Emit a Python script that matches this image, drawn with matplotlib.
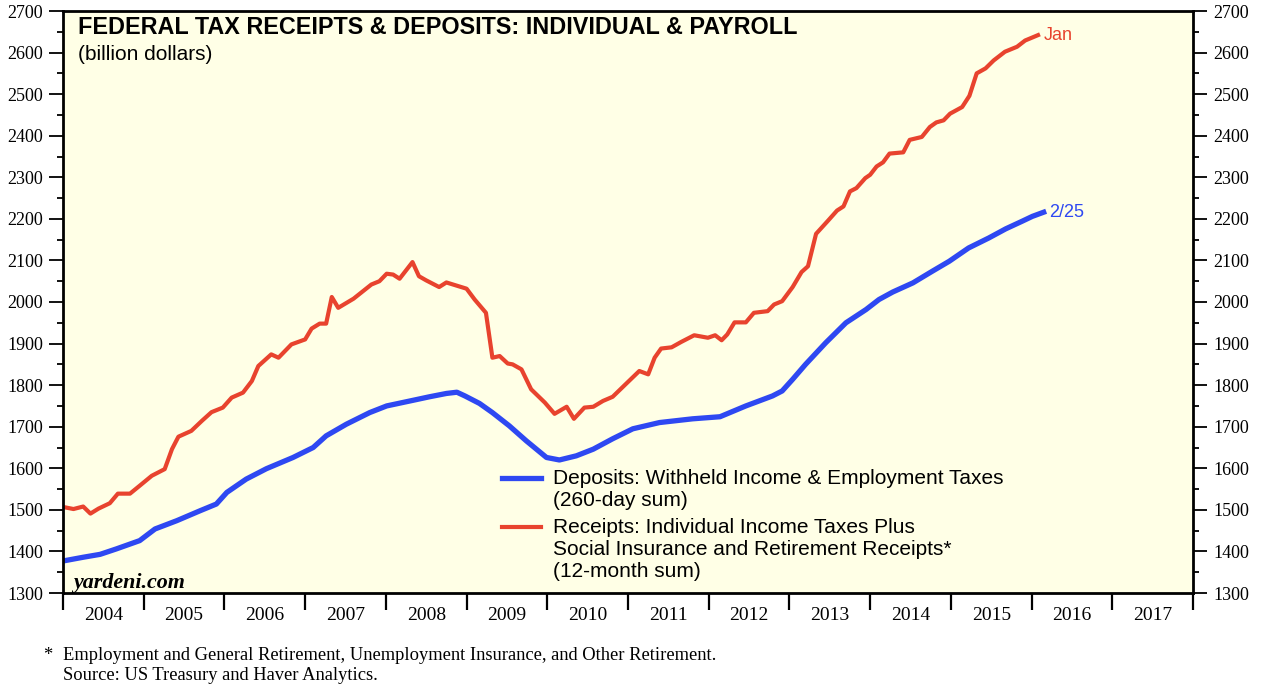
import matplotlib.pyplot as plt
from matplotlib.ticker import MultipleLocator, FixedLocator, NullFormatter
from matplotlib.legend_handler import HandlerLine2D

# Data (x = decimal year)
receipts_t = [2004.00, 2004.13, 2004.25, 2004.34, 2004.44, 2004.58, 2004.68, 2004.83, 2004.95,
              2005.10, 2005.26, 2005.35, 2005.43, 2005.59, 2005.72, 2005.84, 2005.98,
              2006.09, 2006.23, 2006.34, 2006.42, 2006.58, 2006.67, 2006.83, 2007.00,
              2007.08, 2007.18, 2007.26, 2007.33, 2007.41, 2007.60, 2007.82, 2007.92,
              2008.01, 2008.09, 2008.17, 2008.33, 2008.41, 2008.50, 2008.66, 2008.75,
              2009.00, 2009.10, 2009.24, 2009.32, 2009.41, 2009.51, 2009.57, 2009.68,
              2009.80, 2009.97, 2010.09, 2010.24, 2010.33, 2010.46, 2010.57, 2010.69,
              2010.81, 2010.98, 2011.14, 2011.25, 2011.33, 2011.41, 2011.54, 2011.66,
              2011.82, 2011.99, 2012.08, 2012.16, 2012.23, 2012.32, 2012.46, 2012.56,
              2012.73, 2012.81, 2012.91, 2013.04, 2013.15, 2013.23, 2013.33, 2013.48,
              2013.59, 2013.67, 2013.75, 2013.83, 2013.94, 2014.00, 2014.08, 2014.16,
              2014.24, 2014.41, 2014.49, 2014.64, 2014.74, 2014.82, 2014.91, 2014.99,
              2015.14, 2015.23, 2015.32, 2015.43, 2015.53, 2015.67, 2015.82, 2015.92,
              2016.08]
receipts_v = [1507, 1502, 1508, 1491, 1503, 1516, 1539, 1539, 1558,
              1582, 1598, 1646, 1676, 1690, 1714, 1735, 1746,
              1770, 1782, 1810, 1846, 1874, 1866, 1898, 1910,
              1936, 1948, 1948, 2012, 1986, 2008, 2042, 2050,
              2068, 2066, 2056, 2096, 2062, 2052, 2036, 2047,
              2032, 2006, 1974, 1866, 1870, 1852, 1850, 1838,
              1790, 1758, 1731, 1748, 1719, 1746, 1748, 1762,
              1772, 1804, 1834, 1826, 1866, 1888, 1891, 1904,
              1920, 1914, 1920, 1908, 1922, 1951, 1951, 1974,
              1978, 1994, 2002, 2036, 2072, 2086, 2164, 2196,
              2220, 2230, 2266, 2274, 2298, 2306, 2326, 2336,
              2357, 2360, 2390, 2397, 2421, 2432, 2437, 2453,
              2469, 2496, 2550, 2562, 2581, 2602, 2614, 2629,
              2642]

deposits_t = [2004.00, 2004.25, 2004.46, 2004.66, 2004.95, 2005.14, 2005.41, 2005.70, 2005.90,
              2006.03, 2006.27, 2006.52, 2006.85, 2007.10, 2007.26, 2007.51, 2007.80,
              2008.01, 2008.30, 2008.54, 2008.75, 2008.88, 2008.98, 2009.16, 2009.32,
              2009.53, 2009.74, 2009.99, 2010.15, 2010.36, 2010.57, 2010.81, 2011.06,
              2011.39, 2011.80, 2012.14, 2012.46, 2012.79, 2012.91, 2013.04, 2013.20,
              2013.45, 2013.70, 2013.95, 2014.11, 2014.28, 2014.53, 2014.77, 2014.98,
              2015.22, 2015.47, 2015.68, 2015.88, 2016.01, 2016.15]
deposits_v = [1377, 1386, 1393, 1406, 1426, 1454, 1474, 1498, 1514,
              1542, 1574, 1599, 1626, 1650, 1678, 1706, 1734,
              1750, 1762, 1772, 1780, 1783, 1774, 1756, 1734,
              1702, 1666, 1626, 1620, 1630, 1646, 1671, 1695,
              1710, 1719, 1724, 1750, 1774, 1786, 1814, 1850,
              1902, 1950, 1982, 2006, 2024, 2046, 2074, 2098,
              2130, 2154, 2176, 2194, 2206, 2216]

years = list(range(2004, 2018))

red = '#E8432E'
blue = '#2E48F2'
serif = 'Liberation Serif'
sans = 'Liberation Sans'
LEG_SIZE = 15


class TopLineHandler(HandlerLine2D):
    # put the legend sample next to the first line of a multi-line label
    def __init__(self, nlines, **kw):
        super().__init__(**kw)
        self.nlines = nlines

    def create_artists(self, legend, orig_handle, xdescent, ydescent, width, height,
                       fontsize, trans):
        # line sits at (height - ydescent) / 2, so the shift is halved
        shift = (self.nlines - 1) * 1.06 * fontsize + 1.5
        return super().create_artists(legend, orig_handle, xdescent, ydescent - shift,
                                      width, height, fontsize, trans)


fig = plt.figure(figsize=(12.64, 6.88), dpi=100)
ax = fig.add_axes([63 / 1264, 1 - 593 / 688, 1130 / 1264, 582 / 688])
ax.set_facecolor('#FFFFE6')

l_dep, = ax.plot(deposits_t, deposits_v, color=blue, lw=3.8,
                 label='Deposits: Withheld Income & Employment Taxes\n(260-day sum)')
l_rec, = ax.plot(receipts_t, receipts_v, color=red, lw=3.0,
                 label='Receipts: Individual Income Taxes Plus\nSocial Insurance and Retirement Receipts*\n(12-month sum)')

ax.set_xlim(2004, 2018)
ax.set_ylim(1300, 2700)

# y axis on both sides
ax.yaxis.set_major_locator(MultipleLocator(100))
ax.yaxis.set_minor_locator(MultipleLocator(50))
ax.tick_params(axis='y', which='both', direction='out', left=True, right=True,
               labelleft=True, labelright=True, labelsize=13, width=1.3)
ax.tick_params(axis='y', which='major', length=10, pad=4.5)
ax.tick_params(axis='y', which='minor', length=4.5)
for lab in ax.get_yticklabels():
    lab.set_fontfamily(serif)

# x axis: ticks at year boundaries, labels in the middle of each year
ax.xaxis.set_major_locator(FixedLocator(years + [2018]))
ax.xaxis.set_major_formatter(NullFormatter())
ax.xaxis.set_minor_locator(FixedLocator([y + 0.5 for y in years]))
ax.set_xticklabels([str(y) for y in years], minor=True)
ax.tick_params(axis='x', which='major', direction='out', length=12.5, width=1.6)
ax.tick_params(axis='x', which='minor', length=0, pad=10, labelsize=14)
for lab in ax.get_xticklabels(minor=True):
    lab.set_fontfamily(serif)

for s in ax.spines.values():
    s.set_linewidth(2.0)

ax.text(0.0133, 0.9725, 'FEDERAL TAX RECEIPTS & DEPOSITS: INDIVIDUAL & PAYROLL',
        transform=ax.transAxes, fontsize=16.8, fontweight='bold', family=sans, va='center')
ax.text(0.0133, 0.926, '(billion dollars)', transform=ax.transAxes,
        fontsize=15, family=sans, va='center')
ax.text(0.009, 0.018, 'yardeni.com', transform=ax.transAxes, fontsize=15.8,
        family=serif, style='italic', fontweight='bold', va='center')

ax.text(receipts_t[-1] + 0.07, receipts_v[-1], 'Jan', color=red, fontsize=13,
        family=sans, va='center')
ax.text(deposits_t[-1] + 0.07, deposits_v[-1], '2/25', color=blue, fontsize=13,
        family=sans, va='center')

leg = ax.legend(handles=[l_dep, l_rec], loc='lower left', bbox_to_anchor=(0.3723, -0.012),
                frameon=False, prop={'family': sans, 'size': LEG_SIZE},
                handlelength=1.83, handletextpad=0.58, labelspacing=0.4,
                handler_map={l_dep: TopLineHandler(2), l_rec: TopLineHandler(3)})

fig.text(43 / 1264, 1 - 655 / 688, '*', fontsize=13.3, family=serif, va='center')
fig.text(63 / 1264, 1 - 655 / 688,
         'Employment and General Retirement, Unemployment Insurance, and Other Retirement.',
         fontsize=13.3, family=serif, va='center')
fig.text(63 / 1264, 1 - 675 / 688, 'Source: US Treasury and Haver Analytics.',
         fontsize=13.3, family=serif, va='center')

fig.savefig('out.png', dpi=100)
